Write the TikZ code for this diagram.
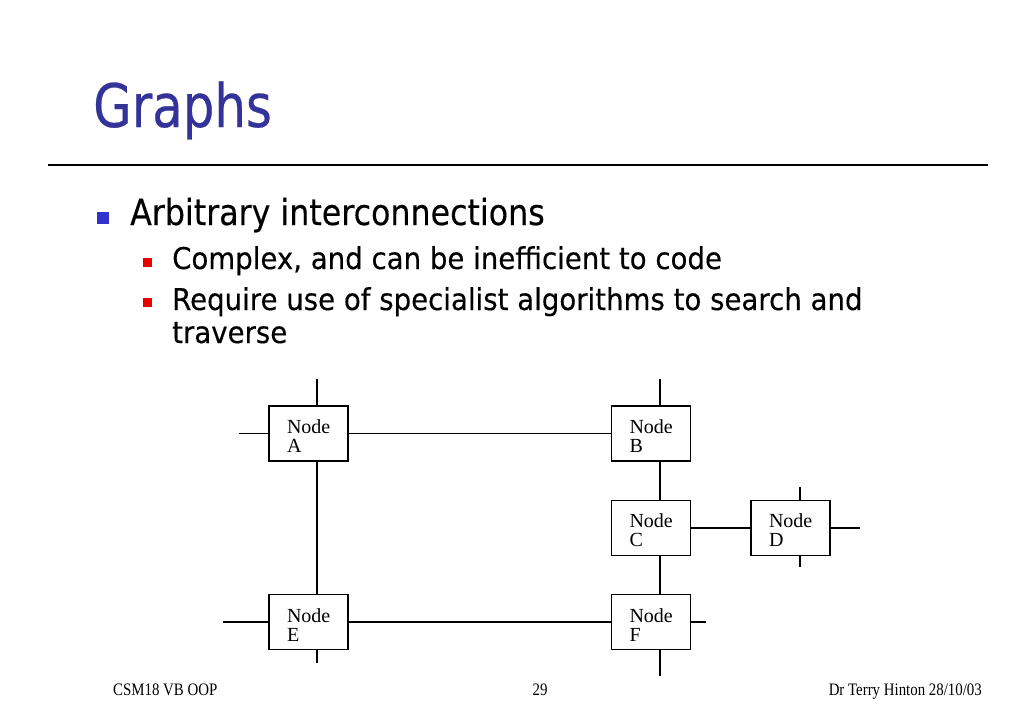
\documentclass[tikz,border=0pt]{standalone}
\usepackage{fontspec}
\setmainfont{Liberation Serif}
\newfontfamily\tah{DejaVu Sans}[FakeStretch=0.88,FakeBold=0.3]
\newfontfamily\tahsub{DejaVu Sans}[FakeStretch=0.92,FakeBold=0.3]
\newfontfamily\tahtitle{DejaVu Sans}[FakeStretch=0.83,FakeBold=0.4]
\newfontfamily\footfont{Liberation Serif}[FakeStretch=0.85]
\definecolor{titleblue}{RGB}{51,51,153}
\definecolor{bulletblue}{RGB}{51,51,204}
\definecolor{bulletred}{RGB}{235,0,0}
\newcommand{\toplift}{\rule{0pt}{19pt}}
\tikzset{
  nodebox/.style={draw, line width=1.5, minimum width=79, minimum height=55,
    inner xsep=18, inner ysep=0, text width=43, align=left,
    font=\fontsize{20}{19}\selectfont},
  wire/.style={line width=1.5},
  txt/.style={anchor=base west, inner sep=0},
  foot/.style={inner sep=0, font=\footfont\fontsize{17.5}{18}\selectfont}
}
\begin{document}
\begin{tikzpicture}[x=1pt,y=-1pt]
\useasboundingbox (0,0) rectangle (1024,709);
\fill[white] (0,0) rectangle (1024,709);
% title
\node[txt, text=titleblue, font=\tahtitle\fontsize{60}{60}\selectfont] (title) at (93,127) {Graphs};
\draw[line width=2] (48,165) -- (988,165);
% bullets
\fill[bulletblue] (97,212) rectangle (109,224);
\node[txt, font=\tah\fontsize{36}{36}\selectfont] (b1t) at (130,225) {Arbitrary interconnections};
\fill[bulletred] (143,258) rectangle (152,267);
\node[txt, font=\tahsub\fontsize{30}{30}\selectfont] (b2t) at (172,269) {Complex, and can be inefficient to code};
\fill[bulletred] (143,298) rectangle (152,307);
\node[txt, font=\tahsub\fontsize{30}{30}\selectfont] (b3t) at (172,310) {Require use of specialist algorithms to search and};
\node[txt, font=\tahsub\fontsize{30}{30}\selectfont] (b3u) at (172,343) {traverse};
% graph nodes
\node[nodebox] (A) at (308.5,433.5) {\toplift Node\\A};
\node[nodebox] (B) at (651,433.5) {\toplift Node\\B};
\node[nodebox] (C) at (651,527.75) {\toplift Node\\C};
\node[nodebox] (D) at (790.5,527.75) {\toplift Node\\D};
\node[nodebox] (E) at (308.5,622) {\toplift Node\\E};
\node[nodebox] (F) at (651,622) {\toplift Node\\F};
% free ends
\coordinate (a1) at (317,379);
\coordinate (a2) at (239,433.5);
\coordinate (b1) at (660,379);
\coordinate (d1) at (800,487);
\coordinate (d2) at (800,567);
\coordinate (d3) at (860,527.75);
\coordinate (e1) at (223,622);
\coordinate (e2) at (317,663);
\coordinate (f1) at (660,676);
\coordinate (f2) at (706,622);
% connectors
\draw[wire] (A.east) -- (B.west);
\draw[wire] (C.east) -- (D.west);
\draw[wire] (E.east) -- (F.west);
\draw[wire] ([xshift=8.5pt]A.south) -- ([xshift=8.5pt]E.north);
\draw[wire] ([xshift=9pt]B.south) -- ([xshift=9pt]C.north);
\draw[wire] ([xshift=9pt]C.south) -- ([xshift=9pt]F.north);
\draw[wire] ([xshift=8.5pt]A.north) -- (a1);
\draw[wire] (A.west) -- (a2);
\draw[wire] ([xshift=9pt]B.north) -- (b1);
\draw[wire] ([xshift=9.5pt]D.north) -- (d1);
\draw[wire] ([xshift=9.5pt]D.south) -- (d2);
\draw[wire] (D.east) -- (d3);
\draw[wire] (E.west) -- (e1);
\draw[wire] ([xshift=8.5pt]E.south) -- (e2);
\draw[wire] ([xshift=9pt]F.south) -- (f1);
\draw[wire] (F.east) -- (f2);
% footer
\node[foot, anchor=base west] (fl) at (113,695) {CSM18 VB OOP};
\node[foot, anchor=base] (fc) at (540,695) {29};
\node[foot, anchor=base east] (fr) at (982,695) {Dr Terry Hinton 28/10/03};
\end{tikzpicture}
\end{document}
